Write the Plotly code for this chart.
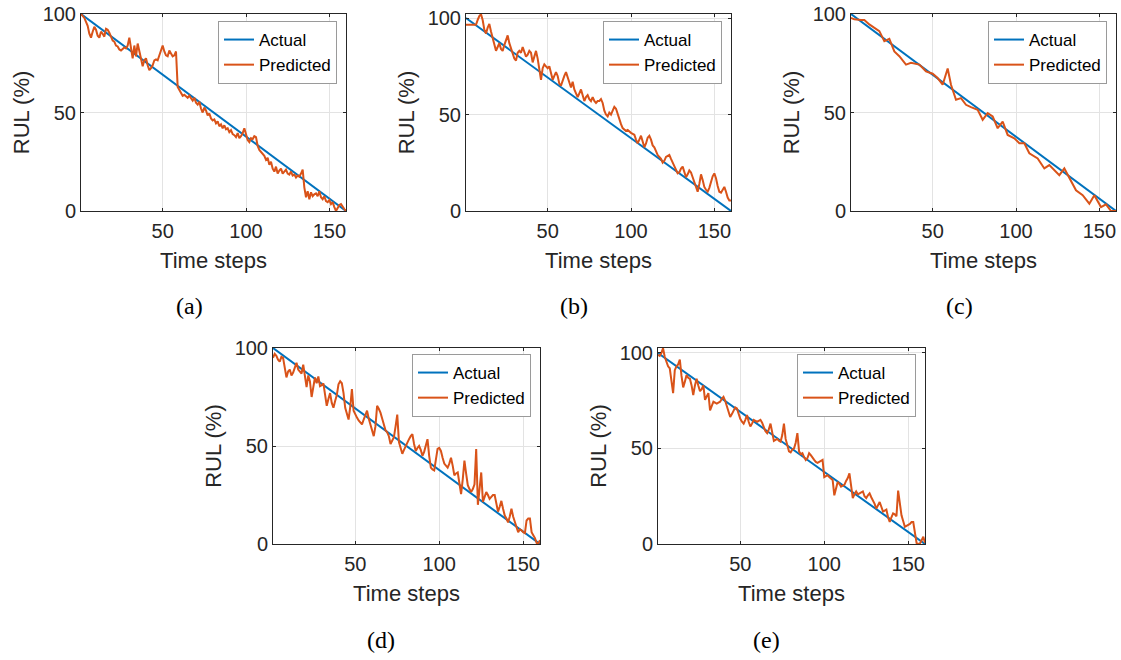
import plotly.graph_objects as go

# ---------------- data ----------------
t_steps = list(range(1, 161))
actual = [100 * (160 - t) / 159 for t in t_steps]

pred_a = [100, 99, 98, 96, 94, 90, 88, 91, 93.5, 92,
          89, 88, 91, 90, 88.5, 92.5, 92, 90.5, 88.5, 86.5,
          86, 84, 83.5, 82, 81.5, 82.5, 83, 82.5, 84, 88,
          83, 77.5, 84, 78.5, 85, 81.5, 78, 73.5, 76.5, 77.5,
          74, 71.5, 72.5, 74, 76.5, 77, 76.5, 79, 81, 84,
          81, 79, 78.5, 81.5, 80, 78.5, 79, 81, 63, 61.5,
          60, 58.5, 59, 58, 57.5, 58.5, 57, 56, 57.5, 55,
          54, 55.5, 52, 50, 52.5, 51, 48.5, 49.5, 47, 46,
          46.5, 44.5, 45.5, 43, 44, 42, 43.5, 41.5, 42, 40,
          41, 39, 38.5, 37.5, 39.5, 37, 38, 39.5, 42, 39,
          36, 35, 37, 36.5, 38, 37.5, 33, 31, 30, 29,
          28, 26, 27, 23.5, 25, 21.5, 20, 22.5, 19, 20.5,
          21.5, 19, 20, 21, 19, 18.5, 20, 18, 18.5, 17,
          18, 17.5, 19, 21, 12, 7, 10, 6, 9.5, 7.5,
          8.5, 9, 7.5, 10, 7, 6, 7.5, 5, 4.5, 5.5,
          3.5, 4.5, 2, 0, 1.5, 3, 3.5, 2, 1, 0]

pred_b = [96.5, 96.5, 96.5, 96.5, 96.5, 96.5, 96.5, 99, 101, 102,
          99, 94, 92, 95, 97, 93, 90, 86, 83, 85,
          87, 84, 83, 86, 89, 91, 87, 84, 81, 79,
          78, 82, 83, 82, 85, 82, 80, 81, 83, 82,
          77, 80, 83, 79, 72, 68, 74, 76, 75, 74,
          75, 71, 68, 70, 72, 70, 66, 65, 68, 70,
          72, 69, 66, 64, 67, 63, 61, 59, 61, 63,
          60, 57, 59, 60, 58, 57, 59, 57, 56, 57,
          57, 58, 56, 52, 50, 49, 51, 50, 52, 54,
          53, 50, 47, 45, 43, 42, 41.5, 42, 41, 40.5,
          40, 39.5, 37, 35, 37, 39, 36, 33, 35, 38,
          39, 37, 34, 33, 31, 29, 28, 27, 25, 26,
          28, 28.5, 29, 27, 25, 23, 21, 19.5, 20, 22,
          23, 20, 17.5, 19, 21, 20, 17.5, 15, 12, 10,
          14, 19, 16, 12.5, 11, 10, 12, 15, 18, 19.5,
          17, 13, 10, 9.5, 11, 12.5, 10, 7, 5.5, 5.5]

t_c = [1, 3, 7, 9, 12, 15, 18, 21, 24, 27, 30, 34, 37, 42, 46, 50, 53, 56, 59,
       61, 64, 67, 70, 73, 77, 80, 83, 86, 89, 92, 95, 99, 102, 105, 108, 113,
       117, 120, 126, 129, 133, 136, 140, 144, 147, 151, 154, 157, 160]
pred_c = [98, 97.3, 97, 97, 94.7, 93, 91.3, 86.2, 87.4, 81, 78.6, 74.3, 75.2,
          74.3, 70.9, 69.7, 67.5, 64.1, 72.3, 64.1, 56.5, 57.3, 53.9, 52.7,
          51.4, 46.3, 49.7, 48, 42, 45.4, 38.6, 36.9, 34.4, 34.4, 29.3, 26.7,
          21.6, 23.3, 18.2, 21.6, 14.8, 10.5, 8, 3.7, 8, 2, 3.4, 0, 0]

pred_d = [95, 97, 96, 94, 93, 95.5, 95, 90, 85, 88,
          89, 86, 87.5, 90, 92.5, 89, 88, 87, 91.5, 85,
          80, 86, 83, 75, 80, 85, 82, 85.5, 80.5, 81,
          82, 76, 70.5, 74, 77, 72, 69.5, 73, 76, 81.5,
          83, 82, 77, 69.5, 66, 63.5, 70, 79, 68, 66,
          64.5, 63, 62, 61, 63.5, 66, 68, 64, 60.5, 58,
          55, 60, 70.5, 69, 67, 64, 61, 58, 57, 55,
          51, 53, 54.5, 60, 66, 52, 49, 46, 48, 50,
          52, 53.5, 55, 56, 51, 47.5, 49, 50, 48, 45,
          47, 50, 53.5, 45, 39, 38, 37.5, 43, 48.5, 49,
          47.5, 44, 41, 40, 39, 41, 44, 40, 35, 36,
          36.5, 31, 25.5, 33, 42.5, 36, 30, 28, 26.5, 28,
          30.5, 48.5, 20, 28, 36.5, 21.5, 24, 26.5, 25, 23,
          24, 25, 25, 20, 16.5, 19, 22, 18, 14.5, 13,
          11, 14, 18, 14, 11, 8, 6, 7.5, 7, 6,
          5.5, 12, 13, 13, 6, 4.5, 3, 0.5, 0.3, 2]

pred_e = [99, 98.5, 100, 102.5, 98, 95, 93, 92, 86, 79,
          91, 93, 94, 96.5, 88, 82, 85, 88.5, 87, 86.5,
          83, 78, 83, 86.5, 83, 80, 81, 83, 75.5, 77,
          79, 70, 72, 74.5, 74, 73.5, 74, 74.5, 76, 77,
          75, 72.5, 69, 66.5, 68, 70, 71.5, 71, 68, 65.5,
          64, 63, 65, 67.5, 64, 61.5, 63, 65, 64.5, 64,
          64.5, 65, 63.5, 61, 59, 58, 60, 63, 59, 54,
          54.5, 55, 54, 53.5, 57, 63, 55, 51, 48.5, 48,
          49.5, 50, 53, 58, 48.5, 47, 47.5, 45.5, 44, 45,
          47.5, 46.5, 45, 44, 43, 42.5, 43, 43.5, 44, 35,
          35.5, 36, 35, 34, 33.5, 25.5, 30, 32.5, 31.5, 30,
          30.5, 31, 33, 34.5, 37, 30, 24, 26, 27.5, 26,
          26.5, 27, 27.5, 25, 24, 25.5, 26.5, 24.5, 23, 21,
          18.5, 20, 22, 19.5, 17, 17.5, 18, 14, 11.5, 14,
          16, 15.5, 14.5, 28, 21, 15, 12, 9, 9.5, 10,
          10.5, 11.5, 11.5, 6, 0.5, 0, 0.3, 2, 3.8, 0.5]

panel_labels = ["(a)", "(b)", "(c)", "(d)", "(e)"]
y_max = [100, 102.1, 100, 100, 102.6]
x_ticks = [50, 100, 150]
y_ticks = [0, 50, 100]

# ---------------- layout geometry (pixels) ----------------
W, H = 1121, 660
# left, right, top, bottom of each plot area
boxes = [(81, 346, 14, 211), (466, 731, 14, 211), (851, 1116, 14, 211),
         (273, 540, 348, 544), (658, 925, 348, 544)]
legend_pos = [(337, 21), (722, 21), (1107, 21), (531, 354), (916, 354)]
caption_pos = [(189, 306), (574, 306), (959, 306), (381, 640), (766, 640)]

BLUE = "#0072BD"
ORANGE = "#D95319"
AX = "#262626"
GRID = "#E3E3E3"
SANS = "Liberation Sans, Arial, sans-serif"

series = [(t_steps, pred_a), (t_steps, pred_b), (t_c, pred_c),
          (t_steps, pred_d), (t_steps, pred_e)]

fig = go.Figure()
layout = dict(width=W, height=H, autosize=False,
              margin=dict(l=0, r=0, t=0, b=0, pad=0, autoexpand=False),
              paper_bgcolor="white", plot_bgcolor="white",
              font=dict(family=SANS, color=AX, size=20),
              annotations=[])

for i, ((l, r, t, b), (px_t, py)) in enumerate(zip(boxes, series)):
    n = "" if i == 0 else str(i + 1)
    leg = "legend" if i == 0 else "legend" + str(i + 1)
    fig.add_trace(go.Scatter(x=t_steps, y=actual, mode="lines", name="Actual",
                             line=dict(color=BLUE, width=2),
                             xaxis="x" + n, yaxis="y" + n, legend=leg))
    fig.add_trace(go.Scatter(x=px_t, y=py, mode="lines", name="Predicted",
                             line=dict(color=ORANGE, width=2),
                             xaxis="x" + n, yaxis="y" + n, legend=leg))
    common = dict(showline=True, linecolor=AX, linewidth=1, mirror="allticks",
                  ticks="inside", ticklen=3, tickcolor=AX, showgrid=True,
                  gridcolor=GRID, gridwidth=1, zeroline=False, automargin=False,
                  tickfont=dict(family=SANS, size=20, color=AX))
    layout["xaxis" + n] = dict(common, domain=[l / W, r / W], range=[1, 160],
                               tickvals=x_ticks, anchor="y" + n,
                               ticklabelstandoff=2,
                               title=dict(text="Time steps", standoff=11,
                                          font=dict(family=SANS, size=22, color=AX)))
    layout["yaxis" + n] = dict(common, domain=[1 - b / H, 1 - t / H],
                               range=[0, y_max[i]], tickvals=y_ticks,
                               anchor="x" + n,
                               title=dict(text="RUL (%)", standoff=6,
                                          font=dict(family=SANS, size=22, color=AX)))
    lx, ly = legend_pos[i]
    layout[leg] = dict(x=lx / W, y=1 - ly / H, xanchor="right", yanchor="top",
                       bgcolor="white", bordercolor="#9A9A9A", borderwidth=1,
                       font=dict(family=SANS, size=17, color="black"),
                       tracegroupgap=0)
    cx, cy = caption_pos[i]
    layout["annotations"].append(dict(text=panel_labels[i], x=cx / W, y=1 - cy / H,
                                      xref="paper", yref="paper", showarrow=False,
                                      xanchor="center", yanchor="middle",
                                      font=dict(family="Liberation Serif, serif",
                                                size=24, color="black")))

fig.update_layout(**layout)
fig.write_html("out.html", config={"displayModeBar": False},
               post_script="document.body.style.margin='0';")
